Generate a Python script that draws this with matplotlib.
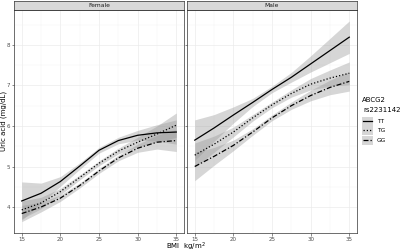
import numpy as np
import matplotlib
matplotlib.use("Agg")
import matplotlib.pyplot as plt
from matplotlib.lines import Line2D
from matplotlib.patches import Rectangle

# BMI grid
bmi = [15, 17.5, 20, 22.5, 25, 27.5, 30, 32.5, 35]

# fitted uric acid (mg/dL) and half band widths, per sex and genotype
female_tt = [4.15, 4.34, 4.63, 5.01, 5.4, 5.64, 5.77, 5.83, 5.85]
female_tg = [3.93, 4.1, 4.38, 4.73, 5.08, 5.38, 5.6, 5.8, 6.02]
female_gg = [3.84, 4.0, 4.22, 4.53, 4.89, 5.21, 5.45, 5.6, 5.64]
female_tt_se = [0.47, 0.25, 0.12, 0.08, 0.07, 0.08, 0.12, 0.2, 0.3]
female_tg_se = [0.22, 0.14, 0.08, 0.06, 0.06, 0.07, 0.12, 0.2, 0.3]
female_gg_se = [0.2, 0.12, 0.08, 0.06, 0.06, 0.07, 0.1, 0.17, 0.27]

male_tt = [5.65, 5.95, 6.27, 6.58, 6.9, 7.2, 7.53, 7.86, 8.19]
male_tg = [5.28, 5.55, 5.85, 6.2, 6.52, 6.8, 7.03, 7.18, 7.3]
male_gg = [5.0, 5.25, 5.52, 5.85, 6.2, 6.5, 6.75, 6.95, 7.1]
male_tt_se = [0.5, 0.33, 0.2, 0.1, 0.08, 0.12, 0.2, 0.3, 0.4]
male_tg_se = [0.3, 0.2, 0.12, 0.08, 0.07, 0.09, 0.14, 0.2, 0.28]
male_gg_se = [0.35, 0.22, 0.13, 0.08, 0.07, 0.09, 0.13, 0.18, 0.24]

genotypes = ["TT", "TG", "GG"]
panels = ["Female", "Male"]
styles = {"TT": "-", "TG": (0, (1, 1.6)), "GG": (0, (4, 1.6, 1, 1.6))}

data = {
    "Female": {"TT": (female_tt, female_tt_se), "TG": (female_tg, female_tg_se),
               "GG": (female_gg, female_gg_se)},
    "Male": {"TT": (male_tt, male_tt_se), "TG": (male_tg, male_tg_se),
             "GG": (male_gg, male_gg_se)},
}

W, H = 400, 252
fig = plt.figure(figsize=(4, 2.52), dpi=100)


def px_axes(x0, y0, x1, y1):
    return fig.add_axes([x0 / W, 1 - y1 / H, (x1 - x0) / W, (y1 - y0) / H])


dark = "#333333"
lefts = [14, 187]
for k, name in enumerate(panels):
    x0 = lefts[k]
    ax = px_axes(x0, 10, x0 + 170, 233)
    ax.set_xlim(14, 36)
    ax.set_ylim(3.36, 8.86)
    ax.set_xticks([15, 20, 25, 30, 35])
    ax.set_yticks([4, 5, 6, 7, 8])
    ax.set_xticks([17.5, 22.5, 27.5, 32.5], minor=True)
    ax.set_yticks([4.5, 5.5, 6.5, 7.5, 8.5], minor=True)
    ax.grid(True, which="major", color="#ebebeb", lw=0.5)
    ax.grid(True, which="minor", color="#f2f2f2", lw=0.3)
    ax.set_axisbelow(True)
    ax.tick_params(which="major", length=1.8, width=0.4, color=dark,
                   labelsize=4, labelcolor="#4d4d4d", pad=0.8)
    ax.tick_params(which="minor", length=0)
    if k == 1:
        ax.set_yticklabels([])
    for s in ax.spines.values():
        s.set_color(dark)
        s.set_linewidth(0.5)
    for g in genotypes:
        fit, se = data[name][g]
        fit = np.array(fit)
        se = np.array(se)
        ax.fill_between(bmi, fit - se, fit + se, color="#999999", alpha=0.4, lw=0)
    for g in genotypes:
        fit, se = data[name][g]
        ax.plot(bmi, fit, color="black", lw=0.9, linestyle=styles[g])

    st = px_axes(x0, 1, x0 + 170, 10)
    st.set_xticks([])
    st.set_yticks([])
    st.set_facecolor("#d9d9d9")
    for s in st.spines.values():
        s.set_color(dark)
        s.set_linewidth(0.5)
    st.text(0.5, 0.45, name, ha="center", va="center", fontsize=4.3, color="#1a1a1a",
            transform=st.transAxes)

fig.text(3.5 / W, 1 - 121 / H, "Uric acid (mg/dL)", rotation=90, ha="center",
         va="center", fontsize=5)
fig.text(186 / W, 1 - 246.5 / H, "BMI  kg/m$^2$", ha="center", va="center", fontsize=5)

# legend
fig.text(362 / W, 1 - 100 / H, "ABCG2", ha="left", va="center", fontsize=5)
fig.text(363 / W, 1 - 110 / H, "rs2231142", ha="left", va="center", fontsize=5)
key_y = [121, 130, 140]
for g, ky in zip(genotypes, key_y):
    fig.patches.append(Rectangle((362 / W, 1 - (ky + 4.5) / H), 11 / W, 9 / H,
                                 transform=fig.transFigure, facecolor="#d6d6d6",
                                 edgecolor="none"))
    fig.lines.append(Line2D([363 / W, 372 / W], [1 - ky / H, 1 - ky / H],
                            transform=fig.transFigure, color="black", lw=0.9,
                            linestyle=styles[g]))
    fig.text(377 / W, 1 - ky / H, g, ha="left", va="center", fontsize=4.3)

fig.savefig("out.png", dpi=100)
